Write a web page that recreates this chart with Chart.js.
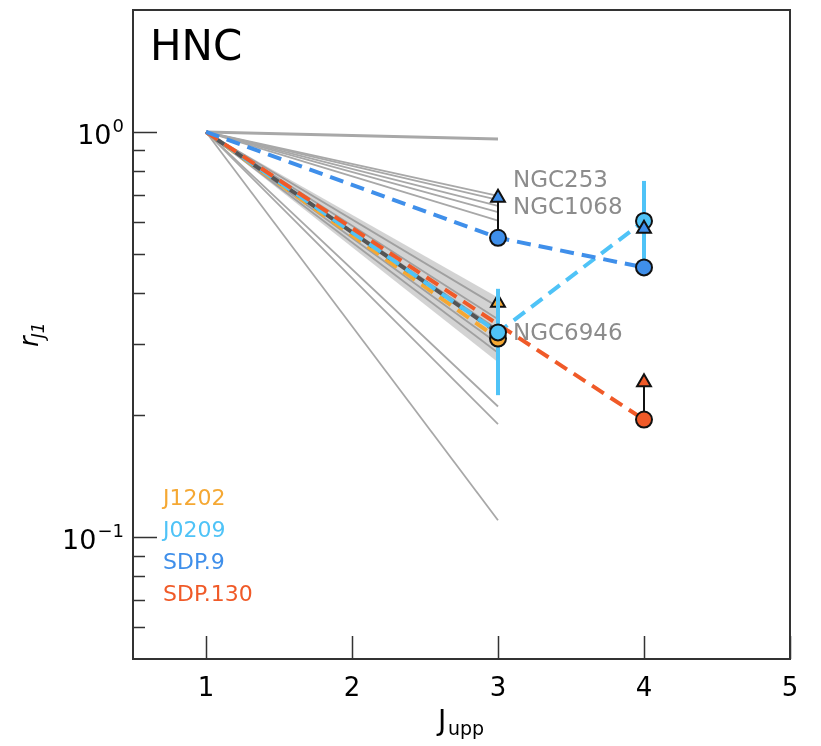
<!DOCTYPE html>
<html lang="en">
<head>
<meta charset="UTF-8">
<title>HNC ratios</title>
<script src="https://cdn.jsdelivr.net/npm/chart.js"></script>
<style>
  html, body { margin: 0; padding: 0; background: #fff; }
</style>
</head>
<body>
<canvas id="ratioChart" width="821" height="746"></canvas>
<script>
// J upper levels used by the data, and axis ticks
const jUpp = [1, 3, 4];
const xTicks = [1, 2, 3, 4, 5];
const yMajor = [0.1, 1];
const yMajorLabels = [['10', '\u22121'], ['10', '0']];
const yMinor = [0.06, 0.07, 0.08, 0.09, 0.2, 0.3, 0.4, 0.5, 0.6, 0.7, 0.8, 0.9];

// local galaxies: r31 for each (r11 = 1)
const localStart = 1;
const localR31 = [0.961, 0.695, 0.68, 0.657, 0.634, 0.604, 0.37, 0.345, 0.325, 0.30, 0.285, 0.21, 0.19, 0.11];

// spread of the local sample at J=1 and J=3
const bandHi = [1, 0.39];
const bandLo = [1, 0.27];
const bandMid = [1, 0.32];

// high-z sources (values at J = 1, 3, 4)
const j1202 = [1, 0.309, null];
const j1202Lim = [null, 0.379, null];
const j0209 = [1, 0.320, 0.603];
const j0209Lo = [null, 0.224, 0.465];
const j0209Hi = [null, 0.410, 0.757];
const sdp9 = [1, 0.548, 0.463];
const sdp9Lim = [null, 0.688, 0.577];
const sdp130 = [1, 0.335, 0.195];
const sdp130Lim = [null, null, 0.241];
// which J levels have a plotted marker
const marked = [[false, true, false], [false, true, true], [false, true, true], [false, false, true]];

const names = ['J1202', 'J0209', 'SDP.9', 'SDP.130'];
const colors = ['#F5A833', '#4FC3F7', '#3F8FEA', '#F05A28'];

const pts = (ys) => jUpp.map((x, i) => ({ x: x, y: ys[i] })).filter(p => p.y != null);
const dashPattern = [14, 8];

const datasets = [];

// local galaxy tracks
localR31.forEach(v => {
    datasets.push({
        data: [{ x: jUpp[0], y: localStart }, { x: jUpp[1], y: v }],
        showLine: true, borderColor: '#a8a8a8', borderWidth: v > 0.9 ? 3 : 1.8,
        pointRadius: 0, order: 30
    });
});

// shaded band
datasets.push({
    data: pts(bandHi), showLine: true, borderWidth: 0, pointRadius: 0,
    fill: '+1', backgroundColor: 'rgba(150,150,150,0.42)', order: 29
});
datasets.push({
    data: pts(bandLo), showLine: true, borderWidth: 0, pointRadius: 0, order: 29
});
datasets.push({
    data: pts(bandMid), showLine: true, borderColor: '#555', borderWidth: 4,
    borderDash: dashPattern, borderDashOffset: 10, pointRadius: 0, order: 26
});

// dashed source tracks
const series = [j1202, j0209, sdp9, sdp130];
const lineOrder = [27, 25, 22, 24];
series.forEach((s, k) => {
    datasets.push({
        data: pts(s), showLine: true, borderColor: colors[k], borderWidth: 4,
        borderDash: dashPattern, pointRadius: 0, order: lineOrder[k]
    });
});

// lower-limit arrows (black stems) and triangles
const limits = [j1202Lim, null, sdp9Lim, sdp130Lim];
const triOrder = [8, 0, 1, 1];
limits.forEach((lim, k) => {
    if (!lim) return;
    lim.forEach((v, i) => {
        if (v == null) return;
        datasets.push({
            data: [{ x: jUpp[i], y: series[k][i] }, { x: jUpp[i], y: v }],
            showLine: true, borderColor: '#111', borderWidth: 2, pointRadius: 0, order: 12
        });
    });
    datasets.push({
        data: pts(lim), showLine: false, pointStyle: 'triangle', pointRadius: 8,
        backgroundColor: colors[k], borderColor: '#111', borderWidth: 2, order: triOrder[k]
    });
});

// J0209 error bars
j0209Lo.forEach((lo, i) => {
    if (lo == null) return;
    datasets.push({
        data: [{ x: jUpp[i], y: lo }, { x: jUpp[i], y: j0209Hi[i] }],
        showLine: true, borderColor: colors[1], borderWidth: 4, pointRadius: 0, order: 5
    });
});

// measured points
const circleOrder = [4, 2, 3, 3];
series.forEach((s, k) => {
    const measured = s.map((v, i) => (marked[k][i] ? v : null));
    datasets.push({
        data: pts(measured), showLine: false, pointStyle: 'circle', pointRadius: 8,
        backgroundColor: colors[k], borderColor: '#111', borderWidth: 2, order: circleOrder[k]
    });
});

const frame = {
    id: 'frame',
    afterDraw(chart) {
        const { ctx, chartArea: a, scales: { x, y } } = chart;
        ctx.save();
        ctx.strokeStyle = '#333';
        ctx.lineWidth = 2;
        ctx.strokeRect(a.left, a.top, a.right - a.left, a.bottom - a.top);

        ctx.lineWidth = 1.5;
        ctx.beginPath();
        xTicks.forEach(v => {
            const px = Math.round(x.getPixelForValue(v)) + 0.5;
            ctx.moveTo(px, a.bottom); ctx.lineTo(px, a.bottom - 23);
        });
        yMajor.forEach(v => {
            const py = Math.round(y.getPixelForValue(v)) + 0.5;
            ctx.moveTo(a.left, py); ctx.lineTo(a.left + 24, py);
        });
        yMinor.forEach(v => {
            const py = Math.round(y.getPixelForValue(v)) + 0.5;
            ctx.moveTo(a.left, py); ctx.lineTo(a.left + 12, py);
        });
        ctx.stroke();

        // y tick labels with superscript exponents
        ctx.fillStyle = '#000';
        ctx.textBaseline = 'alphabetic';
        yMajor.forEach((v, i) => {
            const py = y.getPixelForValue(v);
            const [base, exp] = yMajorLabels[i];
            ctx.font = '18px "DejaVu Sans"';
            ctx.textAlign = 'right';
            ctx.fillText(exp, 124, py);
            const ew = ctx.measureText(exp).width;
            ctx.font = '27px "DejaVu Sans"';
            ctx.fillText(base, 124 - ew - 1, py + 12);
        });
        ctx.textAlign = 'left';

        // panel title
        ctx.font = '42px "DejaVu Sans"';
        ctx.fillText('HNC', 150, 60);

        // local galaxy names
        ctx.fillStyle = '#8c8c8c';
        ctx.font = '23px "DejaVu Sans"';
        const lx = x.getPixelForValue(3) + 15;
        ctx.fillText('NGC253', lx, 187);
        ctx.fillText('NGC1068', lx, 214);
        ctx.fillText('NGC6946', lx, 340);

        // source legend
        ctx.font = '22px "DejaVu Sans"';
        names.forEach((n, k) => {
            ctx.fillStyle = colors[k];
            ctx.fillText(n, 163, 505 + 32 * k);
        });

        // x title J_upp
        ctx.fillStyle = '#000';
        ctx.font = '28px "DejaVu Sans"';
        ctx.fillText('J', 438, 730);
        ctx.font = '19px "DejaVu Sans"';
        ctx.fillText('upp', 448, 735);

        // y title r_J1
        ctx.translate(38, 347);
        ctx.rotate(-Math.PI / 2);
        ctx.font = 'italic 26px "DejaVu Sans"';
        ctx.fillText('r', 0, 0);
        const rw = ctx.measureText('r').width;
        ctx.font = 'italic 17px "DejaVu Sans"';
        ctx.fillText('J1', rw - 2, 6);
        ctx.restore();
    }
};

new Chart(document.getElementById('ratioChart'), {
    type: 'scatter',
    data: { datasets: datasets },
    options: {
        responsive: false,
        animation: false,
        layout: { padding: { top: 7, right: 31, left: 0, bottom: 0 } },
        plugins: { legend: { display: false }, tooltip: { enabled: false } },
        scales: {
            x: {
                type: 'linear', min: 0.5, max: 5,
                grid: { display: false }, border: { display: false },
                afterFit: s => { s.height = 87; s.paddingLeft = 0; s.paddingRight = 0; },
                afterBuildTicks: s => { s.ticks = xTicks.map(v => ({ value: v })); },
                ticks: { color: '#000', padding: 7, font: { family: 'DejaVu Sans', size: 26 } }
            },
            y: {
                type: 'logarithmic', min: 0.05, max: 2,
                grid: { display: false }, border: { display: false },
                afterFit: s => { s.width = 133; s.paddingTop = 0; s.paddingBottom = 0; },
                afterBuildTicks: s => { s.ticks = yMajor.map(v => ({ value: v })); },
                ticks: { display: false }
            }
        }
    },
    plugins: [frame]
});
</script>
</body>
</html>
